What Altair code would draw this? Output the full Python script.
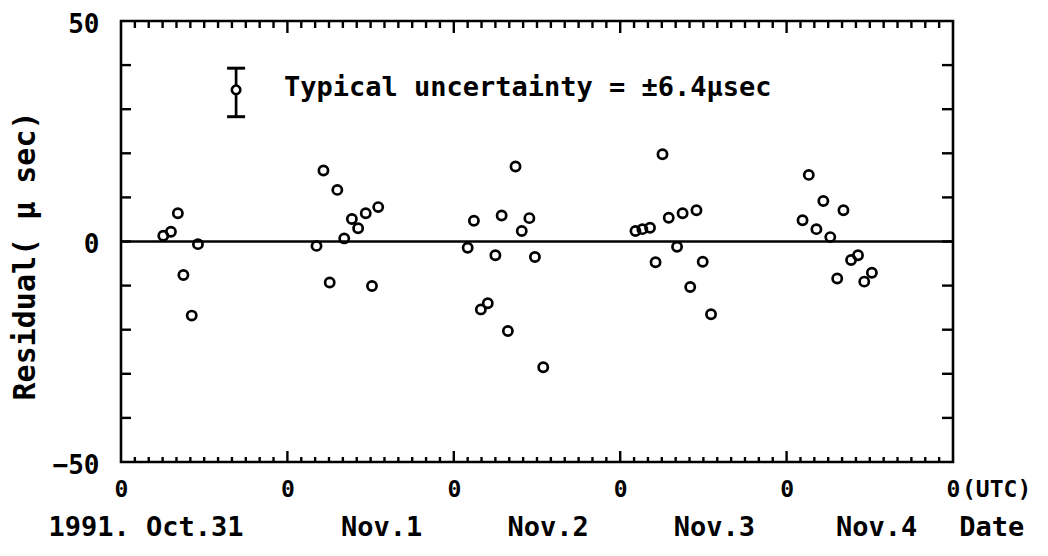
import altair as alt
import pandas as pd

# ---------------- data (hours since 1991 Oct 31 0h UTC, residual in microseconds) ----------------
oct31_h = [6.1, 7.2, 8.2, 9.0, 10.2, 11.1]
oct31_r = [1.3, 2.2, 6.4, -7.6, -16.8, -0.6]
nov1_h = [28.2, 29.2, 30.1, 31.2, 32.2, 33.3, 34.2, 35.3, 36.2, 37.1]
nov1_r = [-1.0, 16.1, -9.3, 11.7, 0.7, 5.1, 3.0, 6.4, -10.1, 7.8]
nov2_h = [50.0, 50.9, 51.9, 52.9, 54.0, 54.9, 55.8, 56.9, 57.8, 58.9, 59.7, 60.9]
nov2_r = [-1.4, 4.7, -15.4, -14.0, -3.1, 5.9, -20.3, 17.0, 2.4, 5.3, -3.5, -28.5]
nov3_h = [74.2, 75.2, 76.3, 77.1, 78.1, 79.0, 80.2, 81.0, 82.1, 83.0, 83.9, 85.1]
nov3_r = [2.4, 2.8, 3.1, -4.7, 19.8, 5.4, -1.2, 6.4, -10.3, 7.1, -4.6, -16.5]
nov4_h = [98.3, 99.2, 100.3, 101.3, 102.3, 103.3, 104.2, 105.3, 106.3, 107.2, 108.3]
nov4_r = [4.8, 15.1, 2.8, 9.2, 1.0, -8.4, 7.1, -4.2, -3.1, -9.1, -7.1]

# typical uncertainty marker
unc_h = [16.6]
unc_center = [34.4]
unc_low = [28.3]
unc_high = [39.3]
unc_text = ["Typical uncertainty = \u00b16.4\u03bcsec"]
unc_text_h = [23.5]
unc_text_v = [34.8]

# axis labels / ticks
day_ticks = [0, 24, 48, 72, 96, 120]
y_label_vals = [-50, 0, 50]
y_tick_vals = [-40, -30, -20, -10, 0, 10, 20, 30, 40]
minor_x_ticks = [h for h in range(2, 120, 2) if h % 24 != 0]
major_x_ticks = [24, 48, 72, 96]
date_labels = ["1991. Oct.31", "Nov.1", "Nov.2", "Nov.3", "Nov.4", "Date"]
date_label_h = [3.6, 37.6, 61.6, 85.6, 109.0, 125.6]
y_title = ["Residual( \u03bc sec)"]

# ---------------- chart ----------------
W, H = 832, 441
FONT = "DejaVu Sans Mono"
FW = "bold"

pts = pd.DataFrame({
    "h": oct31_h + nov1_h + nov2_h + nov3_h + nov4_h,
    "r": oct31_r + nov1_r + nov2_r + nov3_r + nov4_r,
})

xs = alt.Scale(domain=[0, 120], nice=False, zero=False)
ys = alt.Scale(domain=[-50, 50], nice=False, zero=False)

xaxis = alt.Axis(values=day_ticks, labelExpr="'0'", ticks=False, domain=False, grid=False,
                 labelFont=FONT, labelFontSize=23, labelFontWeight=FW, labelPadding=16,
                 labelColor="black", labelFlush=False, labelOverlap=False, title=None)
yaxis = alt.Axis(values=y_label_vals, ticks=False, domain=False, grid=False,
                 labelFont=FONT, labelFontSize=26, labelFontWeight=FW, labelPadding=22,
                 labelOffset=3, labelColor="black", labelFlush=False, labelOverlap=False,
                 title=None)


def X(f):
    return alt.X(f, scale=xs, axis=xaxis, title=None)


def Y(f):
    return alt.Y(f, scale=ys, axis=yaxis, title=None)


points = alt.Chart(pts).mark_point(shape="circle", filled=False, size=85, strokeWidth=2.7,
                                   color="black", opacity=1).encode(x=X("h:Q"), y=Y("r:Q"))

zero = alt.Chart(pd.DataFrame({"r": [0]})).mark_rule(color="black", strokeWidth=2.6).encode(y=Y("r:Q"))

ytk = pd.DataFrame({"v": y_tick_vals})
left_ticks = alt.Chart(ytk).mark_rule(color="black", strokeWidth=2.4).encode(
    y=Y("v:Q"), x=alt.value(0), x2=alt.value(10))
right_ticks = alt.Chart(ytk).mark_rule(color="black", strokeWidth=2.4).encode(
    y=Y("v:Q"), x=alt.value(W - 11), x2=alt.value(W))

mnx = pd.DataFrame({"h": minor_x_ticks})
mjx = pd.DataFrame({"h": major_x_ticks})
top_minor = alt.Chart(mnx).mark_rule(color="black", strokeWidth=2.4).encode(
    x=X("h:Q"), y=alt.value(0), y2=alt.value(7))
top_major = alt.Chart(mjx).mark_rule(color="black", strokeWidth=2.4).encode(
    x=X("h:Q"), y=alt.value(0), y2=alt.value(12))
bot_minor = alt.Chart(mnx).mark_rule(color="black", strokeWidth=2.4).encode(
    x=X("h:Q"), y=alt.value(H - 5), y2=alt.value(H))
bot_major = alt.Chart(mjx).mark_rule(color="black", strokeWidth=2.4).encode(
    x=X("h:Q"), y=alt.value(H - 11), y2=alt.value(H))

unc = pd.DataFrame({"h": unc_h, "c": unc_center, "lo": unc_low, "hi": unc_high})
unc_bar = alt.Chart(unc).mark_rule(color="black", strokeWidth=2.7).encode(
    x=X("h:Q"), y=Y("lo:Q"), y2="hi:Q")
unc_cap_lo = alt.Chart(unc).mark_tick(orient="horizontal", size=18, thickness=3, color="black",
                                     opacity=1).encode(x=X("h:Q"), y=Y("lo:Q"))
unc_cap_hi = alt.Chart(unc).mark_tick(orient="horizontal", size=18, thickness=3, color="black",
                                     opacity=1).encode(x=X("h:Q"), y=Y("hi:Q"))
unc_pt = alt.Chart(unc).mark_point(shape="circle", filled=True, fill="white", size=72, strokeWidth=2.6,
                                   stroke="black", opacity=1).encode(x=X("h:Q"), y=Y("c:Q"))
unc_lbl = alt.Chart(pd.DataFrame({"h": unc_text_h, "v": unc_text_v, "t": unc_text})).mark_text(
    align="left", baseline="middle", font=FONT, fontSize=27, fontWeight=FW, color="black").encode(
    x=X("h:Q"), y=Y("v:Q"), text="t:N")

dates = alt.Chart(pd.DataFrame({"h": date_label_h, "t": date_labels})).mark_text(
    align="center", baseline="middle", font=FONT, fontSize=27, fontWeight=FW, color="black").encode(
    x=X("h:Q"), y=alt.value(507), text="t:N")

utc = alt.Chart(pd.DataFrame({"h": [120], "t": ["(UTC)"]})).mark_text(
    align="left", baseline="middle", font=FONT, fontSize=23, fontWeight=FW, color="black", dx=9).encode(
    x=X("h:Q"), y=alt.value(469), text="t:N")

ytitle = alt.Chart(pd.DataFrame({"t": y_title})).mark_text(
    angle=270, align="center", baseline="middle", font=FONT, fontSize=30, fontWeight=FW,
    color="black").encode(x=alt.value(-95), y=alt.value(235), text="t:N")

chart = alt.layer(
    zero, left_ticks, right_ticks, top_minor, top_major, bot_minor, bot_major,
    unc_bar, unc_cap_lo, unc_cap_hi, unc_pt, unc_lbl, points, dates, utc, ytitle,
).properties(
    width=W, height=H,
    padding={"left": 113, "top": 13, "right": 87, "bottom": 86},
    autosize=alt.AutoSizeParams(type="none"),
    background="white",
).configure_view(stroke="black", strokeWidth=2.6)

chart.save("out.html", embed_options={"renderer": "svg", "actions": False})
